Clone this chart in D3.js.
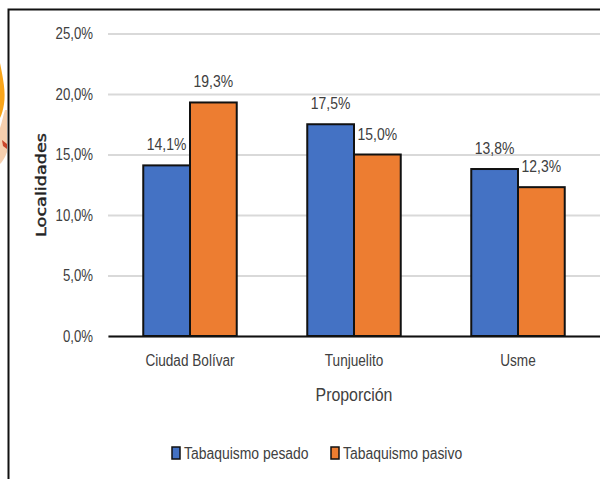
<!DOCTYPE html>
<html>
<head>
<meta charset="utf-8">
<script src="https://cdn.jsdelivr.net/npm/d3@7"></script>
<style>
html, body { margin: 0; padding: 0; background: #fff; }
svg { display: block; }
text { font-family: "Liberation Sans", sans-serif; fill: #404040; }
</style>
</head>
<body>
<div class="vizcontainer"></div>
<script>
const categories = ["Ciudad Bolívar", "Tunjuelito", "Usme"];
const seriesNames = ["Tabaquismo pesado", "Tabaquismo pasivo"];
const pesado = [14.1, 17.5, 13.8];
const pasivo = [19.3, 15.0, 12.3];
const yTicks = [0, 5, 10, 15, 20, 25];
const colors = ["#4472c4", "#ed7d31"];

const width = 600, height = 479;
const plot = ({ left: 108, right: 600, top: 33.5, bottom: 336 });
const comma = v => v.toFixed(1).replace(".", ",") + "%";

// no Calibri here, so squeeze the text to the same width
function squeeze(sel, factor) {
  sel.each(function () {
    var w = this.getComputedTextLength();
    d3.select(this)
      .attr("textLength", w * factor)
      .attr("lengthAdjust", "spacingAndGlyphs");
  });
}

const svg = d3.select(".vizcontainer").append("svg")
  .attr("width", width)
  .attr("height", height);

// bit of the clipart that peeks in at the left edge
svg.append("path")
  .attr("d", "M0,63C3,78 6,92 4,104C3,110 2,114 0,118Z")
  .attr("fill", "#f9a51a");
svg.append("path")
  .attr("d", "M0,128C2,122 3,116 5,110L7,110L7,152C5,158 2,162 0,164Z")
  .attr("fill", "#f6cfae");
svg.append("path")
  .attr("d", "M2,140L7,144L7,149L3,146Z")
  .attr("fill", "#c8452b");

// chart frame, runs off the right and bottom of the picture
svg.append("path")
  .attr("d", "M8.5," + height + "V9.5H" + width)
  .attr("fill", "none")
  .attr("stroke", "#111")
  .attr("stroke-width", 2);

var x0 = d3.scaleBand()
  .domain(categories)
  .range([plot.left, plot.right])
  .paddingInner(0.43)
  .paddingOuter(0.215);

var x1 = d3.scaleBand()
  .domain(seriesNames)
  .range([0, x0.bandwidth()]);

var y = d3.scaleLinear()
  .domain([0, 25])
  .range([plot.bottom, plot.top]);

var yAxis = d3.axisLeft(y)
  .tickValues(yTicks)
  .tickSize(-(plot.right - plot.left))
  .tickPadding(15)
  .tickFormat(comma);

var yG = svg.append("g")
  .attr("transform", "translate(" + plot.left + ",0)")
  .call(yAxis);
yG.select(".domain").remove();
yG.selectAll("line").attr("stroke", "#d9d9d9").attr("stroke-width", 2);
yG.selectAll("text").attr("font-size", 16.5).style("font-family", "inherit").style("fill", "#404040")
  .call(squeeze, 0.8);

const rows = seriesNames.map((name, i) => ({ name, color: colors[i], values: [pesado, pasivo][i] }));

var groups = svg.selectAll(".serie")
  .data(rows)
  .enter()
  .append("g")
  .attr("class", "serie");

groups.selectAll("rect")
  .data(d => d.values.map((v, i) => ({ v, cat: categories[i], name: d.name, color: d.color })))
  .enter()
  .append("rect")
  .attr("x", d => x0(d.cat) + x1(d.name))
  .attr("y", d => y(d.v))
  .attr("width", x1.bandwidth())
  .attr("height", d => y(0) - y(d.v))
  .attr("fill", d => d.color)
  .attr("stroke", "#111")
  .attr("stroke-width", 2);

groups.selectAll("text")
  .data(d => d.values.map((v, i) => ({ v, cat: categories[i], name: d.name })))
  .enter()
  .append("text")
  .attr("x", d => x0(d.cat) + x1(d.name) + x1.bandwidth() / 2)
  .attr("y", d => y(d.v) - 15)
  .attr("text-anchor", "middle")
  .attr("font-size", 17)
  .text(d => comma(d.v))
  .call(squeeze, 0.82);

// baseline on top of the bars
var xAxis = d3.axisBottom(x0).tickSize(0).tickPadding(19);
var xG = svg.append("g")
  .attr("transform", "translate(0," + plot.bottom + ")")
  .call(xAxis);
xG.select(".domain").attr("stroke", "#111").attr("stroke-width", 2);
xG.selectAll("text").attr("font-size", 16).style("font-family", "inherit").style("fill", "#404040")
  .call(squeeze, 0.85);

svg.append("text")
  .attr("x", (plot.left + plot.right) / 2)
  .attr("y", 401)
  .attr("text-anchor", "middle")
  .attr("font-size", 18.5)
  .text("Proporción")
  .call(squeeze, 0.86);

svg.append("text")
  .attr("text-anchor", "middle")
  .attr("transform", "rotate(-90)")
  .attr("x", -185)
  .attr("y", 46)
  .attr("font-size", 14)
  .style("font-family", "'DejaVu Sans', sans-serif")
  .style("fill", "#222")
  .style("stroke", "#222")
  .style("stroke-width", 0.4)
  .text("Localidades")
  .call(squeeze, 1.26);

var legendX = [172, 331];
var legend = svg.append("g").selectAll("g")
  .data(rows)
  .enter()
  .append("g")
  .attr("transform", (d, i) => "translate(" + legendX[i] + ",447)");

legend.append("rect")
  .attr("width", 8)
  .attr("height", 12)
  .attr("fill", d => d.color)
  .attr("stroke", "#111")
  .attr("stroke-width", 1.5);

legend.append("text")
  .attr("x", 12)
  .attr("y", 12)
  .attr("font-size", 16)
  .text(d => d.name)
  .call(squeeze, 0.87);
</script>
</body>
</html>
